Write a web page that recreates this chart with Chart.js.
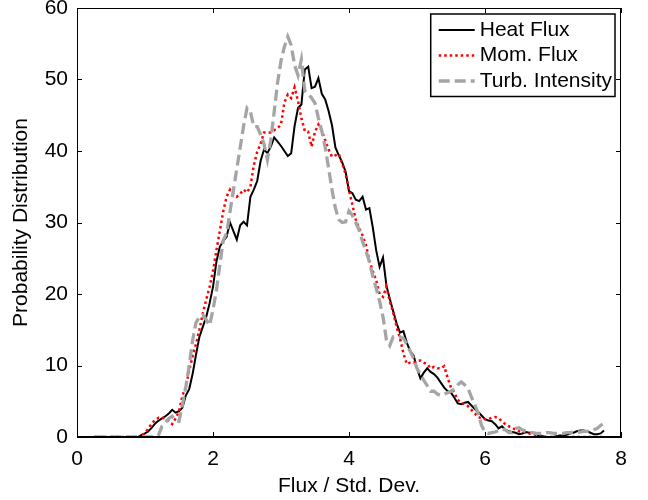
<!DOCTYPE html>
<html>
<head>
<meta charset="utf-8">
<script src="https://cdn.jsdelivr.net/npm/chart.js@4.4.1/dist/chart.umd.min.js"></script>
<style>
  html, body { margin: 0; padding: 0; background: #fff; }
</style>
</head>
<body>
<canvas id="pdfChart" width="648" height="500"></canvas>
<script>
// bin centres (flux normalised by std. dev.)
const fluxBins = [
  0.25, 0.30, 0.35, 0.40, 0.45, 0.50, 0.55, 0.60, 0.65, 0.70,
  0.75, 0.80, 0.85, 0.90, 0.95, 1.00, 1.05, 1.10, 1.15, 1.20,
  1.25, 1.30, 1.35, 1.40, 1.45, 1.50, 1.55, 1.60, 1.65, 1.70,
  1.75, 1.80, 1.85, 1.90, 1.95, 2.00, 2.05, 2.10, 2.15, 2.20,
  2.25, 2.30, 2.35, 2.40, 2.45, 2.50, 2.55, 2.60, 2.65, 2.70,
  2.75, 2.80, 2.85, 2.90, 2.95, 3.00, 3.05, 3.10, 3.15, 3.20,
  3.25, 3.30, 3.35, 3.40, 3.45, 3.50, 3.55, 3.60, 3.65, 3.70,
  3.75, 3.80, 3.85, 3.90, 3.95, 4.00, 4.05, 4.10, 4.15, 4.20,
  4.25, 4.30, 4.35, 4.40, 4.45, 4.50, 4.55, 4.60, 4.65, 4.70,
  4.75, 4.80, 4.85, 4.90, 4.95, 5.00, 5.05, 5.10, 5.15, 5.20,
  5.25, 5.30, 5.35, 5.40, 5.45, 5.50, 5.55, 5.60, 5.65, 5.70,
  5.75, 5.80, 5.85, 5.90, 5.95, 6.00, 6.05, 6.10, 6.15, 6.20,
  6.25, 6.30, 6.35, 6.40, 6.45, 6.50, 6.55, 6.60, 6.65, 6.70,
  6.75, 6.80, 6.85, 6.90, 6.95, 7.00, 7.05, 7.10, 7.15, 7.20,
  7.25, 7.30, 7.35, 7.40, 7.45, 7.50, 7.55, 7.60, 7.65, 7.70,
  7.75
];

const heatFlux = [
  0, 0, 0, 0, 0, 0, 0, 0, 0, 0,
  0, 0, 0, 0, 0.3, 0.5, 0.8, 1.3, 1.9, 2.3,
  2.6, 2.9, 3.3, 3.8, 3.4, 3.6, 4.1, 5.8, 6.7, 8.8,
  11.5, 14.0, 15.4, 16.8, 18.7, 21.0, 24.5, 26.6, 27.4, 28.0,
  30.0, 28.8, 27.6, 29.6, 30.1, 29.6, 33.6, 34.6, 35.8, 38.6,
  40.2, 39.7, 40.6, 41.9, 41.3, 40.7, 40.0, 39.3, 39.7, 43.5,
  46.0, 46.5, 51.4, 51.8, 48.8, 49.0, 50.2, 48.0, 47.2, 45.6,
  43.6, 40.5, 39.4, 38.4, 37.1, 34.4, 34.1, 33.2, 33.0, 33.6,
  31.8, 32.0, 29.3, 26.1, 23.8, 25.1, 21.2, 19.3, 17.6, 15.9,
  14.6, 14.8, 13.2, 12.0, 11.4, 9.6, 8.2, 9.0, 9.6, 9.1,
  8.8, 8.3, 7.6, 6.9, 6.4, 6.2, 5.5, 4.7, 4.6, 4.8,
  4.9, 4.4, 3.9, 3.5, 3.0, 2.5, 2.3, 2.2, 1.8, 1.2,
  1.5, 1.0, 0.8, 0.7, 0.6, 0.4, 0.5, 0.7, 0.6, 0.6,
  0.4, 0.2, 0.1, 0, 0, 0, 0.1, 0.2, 0.2, 0.3,
  0.5, 0.6, 0.8, 0.9, 0.9, 0.8, 0.6, 0.4, 0.4, 0.5,
  0.9
];

const momFlux = [
  0, 0, 0, 0, 0, 0, 0, 0, 0, 0,
  0, 0, 0, 0, 0, 0.6, 1.2, 1.9, 2.4, 2.7,
  2.7, 2.6, 2.2, 1.8, 2.6, 3.6, 5.8, 7.0, 9.3, 11.3,
  13.0, 15.0, 17.3, 19.2, 21.0, 23.2, 26.1, 28.8, 31.5, 33.6,
  34.6, 34.0, 33.6, 34.0, 34.6, 34.2, 35.0, 38.0, 39.9, 41.0,
  42.6, 42.6, 42.6, 42.9, 43.2, 43.7, 46.8, 47.9, 47.4, 48.9,
  47.0, 44.6, 42.8, 42.7, 40.6, 42.7, 43.7, 42.8, 41.5, 40.2,
  39.2, 39.4, 39.6, 38.2, 36.8, 34.5, 32.5, 30.4, 29.2, 28.2,
  26.8, 24.7, 23.2, 21.9, 20.0, 19.6, 21.0, 19.0, 17.4, 15.4,
  13.8, 11.7, 10.2, 10.4, 10.4, 10.6, 10.7, 10.4, 10.2, 9.6,
  9.8, 9.6, 9.6, 9.9, 8.3, 6.9, 6.2, 5.2, 4.8, 4.6,
  4.3, 3.8, 3.3, 2.8, 2.6, 2.5, 2.5, 2.7, 2.8, 2.6,
  2.2, 1.8, 1.5, 1.3, 1.0, 0.8, 0.7, 0.6, 0.5, 0.4,
  0.3, 0.2, 0.1, 0, 0, 0, 0, 0, 0, 0,
  0, 0, 0, 0, 0, 0, 0, 0, 0, 0,
  0
];

const turbIntensity = [
  0, 0, 0, 0, 0, 0, 0, 0, 0, 0,
  0, 0, 0, 0, 0, 0, 0, 0, 0, 0.3,
  1.5, 2.0, 2.6, 2.9, 2.3, 2.2, 4.5, 7.0, 10.0, 13.5,
  16.0, 16.8, 17.1, 16.4, 15.6, 17.8, 20.5, 24.0, 27.5, 28.5,
  31.5, 34.5, 37.5, 40.5, 43.5, 46.0, 45.5, 43.4, 43.4, 42.3,
  41.0, 38.8, 41.5, 45.5, 49.6, 52.6, 54.6, 56.0, 54.8, 52.0,
  50.6, 52.8, 48.4, 48.0, 47.4, 46.7, 44.6, 42.8, 40.5, 37.6,
  34.6, 32.0, 30.4, 30.0, 30.1, 31.6, 31.0, 30.0, 28.9, 27.3,
  26.0, 24.5, 22.5, 20.8, 19.0, 16.8, 13.6, 12.8, 14.0, 14.0,
  14.0, 13.8, 13.0, 12.0, 11.0, 9.6, 8.8, 7.9, 7.2, 6.4,
  6.4, 6.0, 5.8, 6.0, 6.2, 6.4, 6.7, 7.3, 7.7, 7.3,
  6.8, 5.6, 4.5, 3.3, 1.6, 0.7, 0.5, 0.6, 0.7, 0.9,
  1.1, 1.0, 0.6, 0.6, 1.2, 1.3, 1.0, 0.8, 0.6, 0.6,
  0.5, 0.5, 0.5, 0.6, 0.6, 0.5, 0.5, 0.5, 0.5, 0.6,
  0.6, 0.7, 0.7, 0.7, 0.8, 0.8, 0.8, 1.0, 1.2, 1.6,
  2.0
];

const xTicks = [0, 2, 4, 6, 8];
const yTicks = [0, 10, 20, 30, 40, 50, 60];

const FONT = '"Liberation Sans", Arial, Helvetica, sans-serif';

function toPoints(values) {
  return fluxBins.map((x, i) => ({ x: x, y: values[i] }));
}

// box round the axes, inward ticks on all four sides, and the boxed legend
const matlabFrame = {
  id: "matlabFrame",
  afterDraw(chart) {
    const ctx = chart.ctx;
    const a = chart.chartArea;
    const xs = chart.scales.x;
    const ys = chart.scales.y;
    const tl = 5;

    ctx.save();
    ctx.strokeStyle = "#000";
    ctx.lineWidth = 1;
    ctx.strokeRect(a.left + 0.5, a.top + 0.5, a.right - a.left - 1, a.bottom - a.top - 1);

    ctx.beginPath();
    xTicks.forEach((v) => {
      const px = Math.round(xs.getPixelForValue(v)) + 0.5;
      ctx.moveTo(px, a.bottom);
      ctx.lineTo(px, a.bottom - tl);
      ctx.moveTo(px, a.top);
      ctx.lineTo(px, a.top + tl);
    });
    yTicks.forEach((v) => {
      const py = Math.round(ys.getPixelForValue(v)) + 0.5;
      ctx.moveTo(a.left, py);
      ctx.lineTo(a.left + tl, py);
      ctx.moveTo(a.right, py);
      ctx.lineTo(a.right - tl, py);
    });
    ctx.stroke();

    // legend
    ctx.font = "21px " + FONT;
    const sets = chart.data.datasets;
    let textW = 0;
    sets.forEach((d) => { textW = Math.max(textW, ctx.measureText(d.label).width); });
    const sampleW = 36;
    const rowH = 25.5;
    const boxW = 8 + sampleW + 5 + textW + 3;
    const boxH = rowH * sets.length + 6;
    const bx = a.right - 6 - boxW;
    const by = a.top + 6;

    ctx.fillStyle = "#fff";
    ctx.fillRect(bx, by, boxW, boxH);
    ctx.strokeStyle = "#000";
    ctx.lineWidth = 1.5;
    ctx.strokeRect(bx, by, boxW, boxH);

    sets.forEach((d, i) => {
      const cy = by + 16 + i * rowH;
      ctx.beginPath();
      ctx.strokeStyle = d.borderColor;
      ctx.lineWidth = d.borderWidth;
      ctx.setLineDash(d.borderDash || []);
      ctx.moveTo(bx + 8, cy);
      ctx.lineTo(bx + 8 + sampleW, cy);
      ctx.stroke();
      ctx.setLineDash([]);
      ctx.fillStyle = "#000";
      ctx.textBaseline = "middle";
      ctx.textAlign = "left";
      ctx.fillText(d.label, bx + 8 + sampleW + 5, cy);
    });
    ctx.restore();
  },
};

new Chart(document.getElementById("pdfChart"), {
  type: "line",
  data: {
    datasets: [
      {
        label: "Heat Flux",
        data: toPoints(heatFlux),
        borderColor: "#000000",
        borderWidth: 2,
        pointRadius: 0,
        order: 3,
      },
      {
        label: "Mom. Flux",
        data: toPoints(momFlux),
        borderColor: "#ff0000",
        borderWidth: 2.5,
        borderDash: [2.5, 3],
        pointRadius: 0,
        order: 2,
      },
      {
        label: "Turb. Intensity",
        data: toPoints(turbIntensity),
        borderColor: "#a5a5a5",
        borderWidth: 3.3,
        borderDash: [11, 5],
        pointRadius: 0,
        order: 1,
      },
    ],
  },
  options: {
    responsive: false,
    animation: false,
    layout: { padding: { left: 0, right: 27, top: 8, bottom: 0 } },
    plugins: {
      legend: { display: false },
      tooltip: { enabled: false },
    },
    scales: {
      x: {
        type: "linear",
        min: 0,
        max: 8,
        afterBuildTicks: (scale) => { scale.ticks = xTicks.map((v) => ({ value: v })); },
        afterFit: (scale) => {
          scale.height = 63;
          scale.paddingLeft = 0;
          scale.paddingRight = 0;
        },
        grid: { display: false, drawTicks: false },
        border: { display: true, color: "#000", width: 1 },
        ticks: { color: "#000", font: { family: FONT, size: 21 }, padding: 10, maxRotation: 0 },
        title: {
          display: true,
          text: "Flux / Std. Dev.",
          color: "#000",
          font: { family: FONT, size: 21 },
          padding: { top: 0, bottom: 1 },
        },
      },
      y: {
        min: 0,
        max: 60,
        afterBuildTicks: (scale) => { scale.ticks = yTicks.map((v) => ({ value: v })); },
        afterFit: (scale) => {
          scale.width = 77;
          scale.paddingTop = 0;
          scale.paddingBottom = 0;
        },
        grid: { display: false, drawTicks: false },
        border: { display: true, color: "#000", width: 1 },
        ticks: { color: "#000", font: { family: FONT, size: 21 }, padding: 9 },
        title: {
          display: true,
          text: "Probability Distribution",
          color: "#000",
          font: { family: FONT, size: 21 },
          padding: { top: 9, bottom: 0 },
        },
      },
    },
  },
  plugins: [matlabFrame],
});
</script>
</body>
</html>
